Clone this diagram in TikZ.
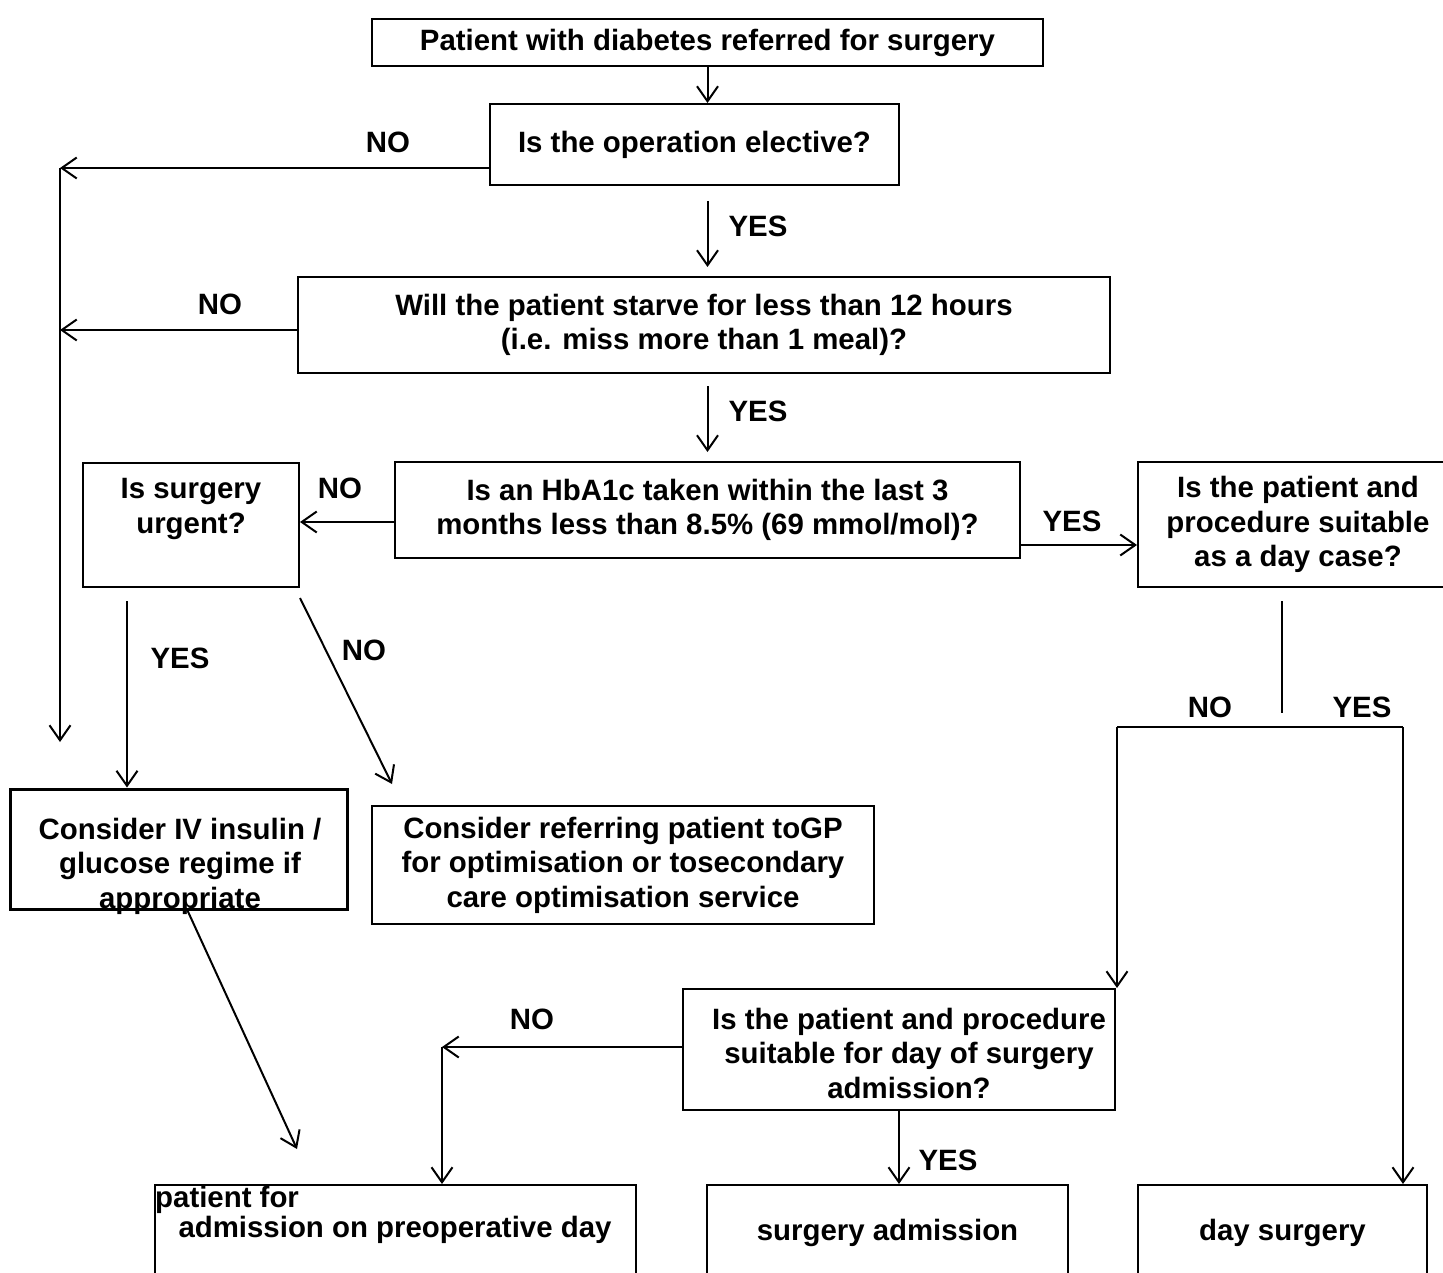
\documentclass[tikz,border=0pt]{standalone}
\usepackage{fontspec}
\setmainfont{Liberation Sans}
\usetikzlibrary{arrows.meta,positioning,calc}
\newcommand{\flowfont}{\fontsize{29.4}{34.5}\selectfont\bfseries}
\tikzset{
  box/.style={rectangle,draw,line width=2pt,inner sep=0pt,
              align=center,font=\flowfont},
  txt/.style={inner sep=0pt,align=center,font=\flowfont},
  tag/.style={inner sep=0pt,font=\flowfont},
  arrow/.style={-{Straight Barb[length=15pt,width=21pt]},line width=2pt},
  plain/.style={line width=2pt},
}
\begin{document}
\begin{tikzpicture}[x=1pt,y=-1pt]
  \useasboundingbox (0,0) rectangle (1443,1273);
  \clip (0,0) rectangle (1443,1273);

  % questions
  \node[box,minimum width=671pt,minimum height=47pt] (pat) at (707.5,42.5)
    {Patient with diabetes referred for surgery};
  \node[box,minimum width=409pt,minimum height=81pt] (elect) at (694.5,144.5)
    {Is the operation elective?};
  \node[box,minimum width=812pt,minimum height=96pt] (starve) at (704,325)
    {Will the patient starve for less than 12 hours\\(i.e. miss more than 1 meal)?};
  \node[box,minimum width=625pt,minimum height=96pt] (hba) at (707.5,510)
    {Is an HbA1c taken within the last 3\\months less than 8.5\% (69 mmol/mol)?};
  \node[box,minimum width=216pt,minimum height=124pt] (urg) at (191,525) {};
  \node[txt] (urgtxt) at (191,509) {Is surgery\\urgent?};
  \node[box,minimum width=320pt,minimum height=125pt] (dayc) at (1298,524.5)
    {Is the patient and\\procedure suitable\\as a day case?};
  \node[box,minimum width=432pt,minimum height=121pt] (dos) at (899,1049.5) {};
  \node[txt] (dostxt) at (909,1053)
    {Is the patient and procedure\\suitable for day of surgery\\admission?};

  % actions
  \node[box,line width=3pt,minimum width=337pt,minimum height=120pt] (ivins) at (178.5,849) {};
  \node[txt] (ivtxt) at (180,866) {Consider IV insulin /\\glucose regime if\\appropriate};
  \node[box,minimum width=502pt,minimum height=118pt] (gpref) at (623,865)
    {Consider referring patient toGP\\for optimisation or tosecondary\\care optimisation service};
  \node[box,minimum width=481pt,minimum height=90pt] (preop) at (395.5,1230) {};
  \node[tag,anchor=base west] (preop1) at (155,1207) {patient for};
  \node[tag,anchor=base] (preop2) at (395,1237) {admission on preoperative day};
  \node[box,minimum width=361pt,minimum height=96pt] (surg) at (887.5,1233)
    {surgery admission};
  \node[box,minimum width=289pt,minimum height=96pt] (dsurg) at (1282.5,1233)
    {day surgery};

  % joints
  \coordinate (ltop) at (60,168);
  \coordinate (lbot) at (60,742);
  \coordinate (split) at (1282,713);
  \coordinate (nobr) at (1117,727);
  \coordinate (yesbr) at (1403,727);
  \coordinate (uy) at ([xshift=45pt,yshift=-13pt]urg.south west);
  \coordinate (nojn) at (442,1047);

  % main line
  \draw[arrow] (pat.south) -- (pat.south |- elect.north);
  \draw[arrow] ([yshift=-15pt]elect.south -| pat.south) -- ([yshift=9pt]starve.north -| pat.south);
  \draw[arrow] ([yshift=-12pt]starve.south -| pat.south) -- ([yshift=9pt]hba.north -| pat.south);

  % left branch
  \draw[arrow] (elect.west |- ltop) -- (ltop);
  \draw[arrow] ([yshift=-5pt]starve.west) -- ([yshift=-5pt]starve.west -| ltop);
  \draw[arrow] (ltop) -- (lbot);
  \draw[arrow] ([yshift=-12pt]hba.west) -- ([yshift=-12pt]hba.west -| urg.east);
  \draw[arrow] (uy) -- (uy |- ivins.north);
  \draw[arrow] ([yshift=-10pt]urg.south east) -- ([xshift=21pt,yshift=21pt]gpref.north west);
  \draw[arrow] ([xshift=9pt]ivins.south) -- ([xshift=143pt,yshift=35pt]preop.north west);

  % right branch
  \draw[arrow] ([yshift=-35pt]hba.east) -- ([yshift=-35pt]hba.east -| dayc.west);
  \draw[plain] ([yshift=-13pt]dayc.south -| split) -- (split);
  \draw[plain] (nobr) -- (yesbr);
  \draw[arrow] (nobr) -- (nobr |- dos.north);
  \draw[arrow] (yesbr) -- (yesbr |- dsurg.north);
  \draw[arrow] (dos.west |- nojn) -- (nojn);
  \draw[arrow] (nojn) -- (nojn |- preop.north);
  \draw[arrow] (dos.south) -- (dos.south |- surg.north);

  % answers
  \node[tag] (no1) at (388,142) {NO};
  \node[tag] (no2) at (220,304) {NO};
  \node[tag] (yes1) at (758,226) {YES};
  \node[tag] (yes2) at (758,411) {YES};
  \node[tag] (no3) at (340,488) {NO};
  \node[tag] (yes3) at (1072,521) {YES};
  \node[tag] (yes4) at (180,658) {YES};
  \node[tag] (no4) at (364,650) {NO};
  \node[tag] (no5) at (1210,707) {NO};
  \node[tag] (yes5) at (1362,707) {YES};
  \node[tag] (no6) at (532,1019) {NO};
  \node[tag] (yes6) at (948,1160) {YES};
\end{tikzpicture}
\end{document}
